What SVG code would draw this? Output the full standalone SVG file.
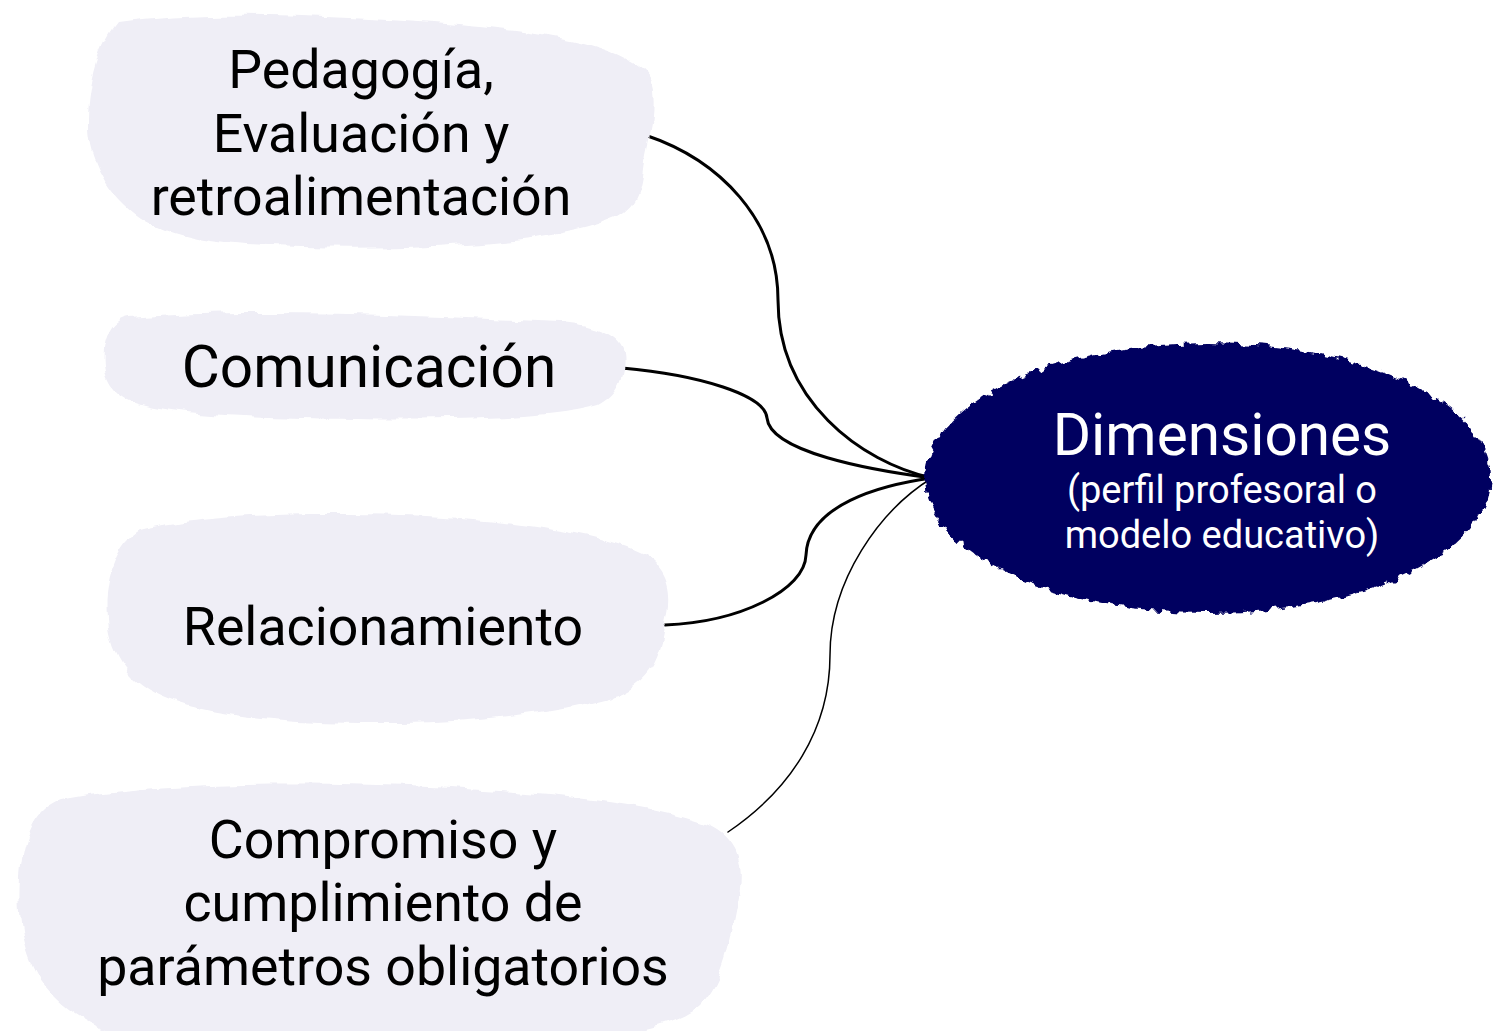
<svg xmlns="http://www.w3.org/2000/svg" width="1494" height="1031" viewBox="0 0 1494 1031">
<defs>
<style>
.blob{fill:#EFEEF6;}
.lbl{font-family:Roboto,"Liberation Sans",sans-serif;fill:#000;text-anchor:middle;}
.big{font-size:53.7px;}
.wl{font-family:Roboto,"Liberation Sans",sans-serif;fill:#fff;text-anchor:middle;}
.conn{fill:none;stroke:#000;stroke-width:3;stroke-linecap:round;}
</style>
<filter id="rough" x="-5%" y="-8%" width="110%" height="116%">
<feTurbulence type="fractalNoise" baseFrequency="0.035" numOctaves="3" seed="3" result="n"/>
<feDisplacementMap in="SourceGraphic" in2="n" scale="10" xChannelSelector="R" yChannelSelector="G"/>
</filter>
<filter id="jag" x="-5%" y="-8%" width="110%" height="116%">
<feTurbulence type="fractalNoise" baseFrequency="0.1" numOctaves="2" seed="7" result="n"/>
<feDisplacementMap in="SourceGraphic" in2="n" scale="11" xChannelSelector="R" yChannelSelector="G"/>
</filter>
</defs>
<rect width="1494" height="1031" fill="#fff"/>
<g id="connectors">
<path class="conn" d="M645,135 C720,160 778,220 778,300 C778,400 860,462 932,478"/>
<path class="conn" d="M622,368 C700,375 765,395 767,418 C770,452 870,470 932,478"/>
<path class="conn" d="M665,625 C740,622 805,590 806,555 C808,505 880,485 932,478"/>
<path class="conn" style="stroke-width:1.5" d="M728,832 C790,790 830,730 830,655 C830,580 880,510 932,478"/>
</g>
<g id="n1">
<path class="blob" filter="url(#rough)" d="M118,22 C200,10 300,15 420,22 C500,28 560,35 600,48 C630,58 650,70 653,90 C656,120 648,140 645,160 C642,190 638,205 620,215 C590,228 560,232 530,238 C450,248 350,250 250,245 C190,242 150,230 125,205 C100,180 88,150 88,125 C88,90 95,50 118,22 Z"/>
<text class="lbl big" x="361" y="88">Pedagogía,</text>
<text class="lbl big" x="361" y="152">Evaluación y</text>
<text class="lbl big" x="361" y="215">retroalimentación</text>
</g>
<g id="n2">
<path class="blob" filter="url(#rough)" d="M130,318 C250,308 400,315 560,322 C595,325 620,335 624,355 C627,375 618,395 598,405 C555,418 450,422 300,418 C220,416 160,412 130,400 C108,390 103,370 105,350 C108,332 115,320 130,318 Z"/>
<text class="lbl" style="font-size:58.5px" x="369" y="387">Comunicación</text>
</g>
<g id="n3">
<path class="blob" filter="url(#rough)" d="M140,530 C200,515 300,512 400,515 C500,518 590,530 640,552 C668,565 674,590 666,620 C662,650 655,680 618,695 C560,712 480,722 400,723 C300,724 220,718 170,700 C130,685 110,655 107,620 C104,580 115,545 140,530 Z"/>
<text class="lbl big" x="383" y="645">Relacionamiento</text>
</g>
<g id="n4">
<path class="blob" filter="url(#rough)" d="M60,800 C150,782 300,780 450,788 C560,794 660,805 710,825 C740,840 745,870 738,900 C730,940 725,980 700,1005 C670,1030 600,1040 500,1040 L150,1040 C100,1035 60,1010 40,980 C20,950 16,900 22,860 C28,825 40,808 60,800 Z"/>
<text class="lbl big" x="383" y="858">Compromiso y</text>
<text class="lbl big" x="383" y="921">cumplimiento de</text>
<text class="lbl big" x="383" y="985">parámetros obligatorios</text>
</g>
<g id="center">
<ellipse filter="url(#jag)" cx="1208" cy="478" rx="283" ry="135" fill="#020260"/>
<text class="wl" style="font-size:58.5px" x="1222" y="455">Dimensiones</text>
<text class="wl" style="font-size:38px" x="1222" y="503">(perfil profesoral o</text>
<text class="wl" style="font-size:38px" x="1222" y="548">modelo educativo)</text>
</g>
</svg>
